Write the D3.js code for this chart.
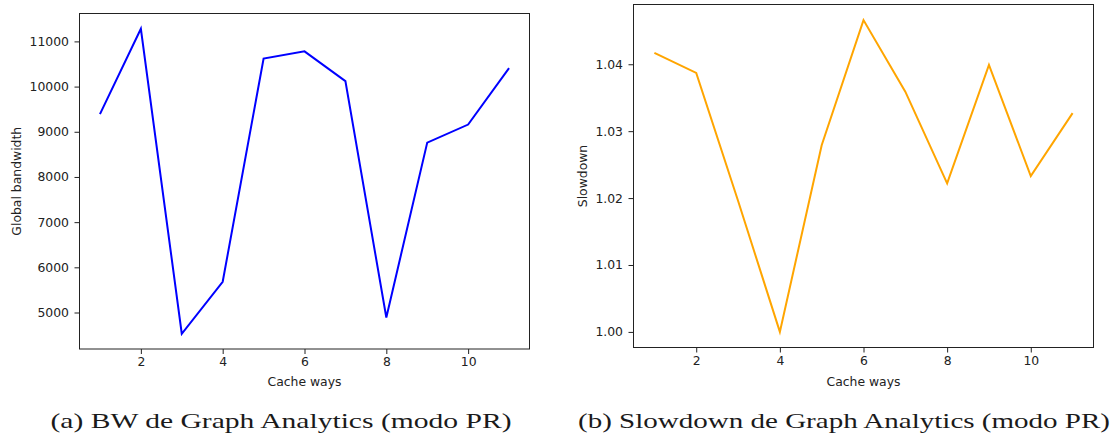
<!DOCTYPE html>
<html>
<head>
<meta charset="utf-8">
<script src="https://cdn.jsdelivr.net/npm/d3@7"></script>
<style>
  body { margin: 0; background: #fff; }
  svg text { font-family: "DejaVu Sans", sans-serif; fill: #222; }
  .caption { font-family: "Liberation Serif", "DejaVu Serif", serif !important; fill: #1a1a1a; }
</style>
</head>
<body>
<svg id="chart" width="1113" height="436"></svg>
<script>
// cache ways on the x axis (shared by both panels)
var cacheWays = [1, 2, 3, 4, 5, 6, 7, 8, 9, 10, 11];
// panel (a): global bandwidth
var bandwidth = [9390, 11280, 4530, 5680, 10620, 10780, 10120, 4890, 8760, 9160, 10410];
// panel (b): slowdown
var slowdown = [1.0417, 1.0387, 1.0196, 1.0000, 1.0279, 1.0466, 1.0359, 1.0222, 1.0399, 1.0233, 1.0327];

var xTicks = [2, 4, 6, 8, 10];
var bwTicks = [5000, 6000, 7000, 8000, 9000, 10000, 11000];
var sdTicks = [1.00, 1.01, 1.02, 1.03, 1.04];

var svg = d3.select("#chart");

function margin5(vals) {
    var lo = d3.min(vals), hi = d3.max(vals), pad = (hi - lo) * 0.05;
    return [lo - pad, hi + pad];
}

function panel(opts) {
    var x = d3.scaleLinear().domain([0.5, 11.5]).range([opts.left, opts.right]);
    var y = d3.scaleLinear().domain(margin5(opts.values)).range([opts.bottom, opts.top]);

    var g = svg.append("g");

    var line = d3.line()
        .x(function(d, i) { return x(cacheWays[i]); })
        .y(function(d) { return y(d); });

    g.append("path")
        .datum(opts.values)
        .attr("d", line)
        .attr("fill", "none")
        .attr("stroke", opts.color)
        .attr("stroke-width", 2)
        .attr("stroke-linejoin", "miter");

    var xAxis = g.append("g")
        .attr("transform", "translate(0," + opts.bottom + ")")
        .call(d3.axisBottom(x).tickValues(xTicks).tickFormat(d3.format("d")).tickSize(5).tickPadding(3.5));
    var yAxis = g.append("g")
        .attr("transform", "translate(" + opts.left + ",0)")
        .call(d3.axisLeft(y).tickValues(opts.ticks).tickFormat(opts.fmt).tickSize(5).tickPadding(5.5));

    [xAxis, yAxis].forEach(function(a) {
        a.select(".domain").remove();
        a.selectAll("line").attr("stroke", "#222").attr("stroke-width", 1);
        a.selectAll("text").style("font-size", "12.4px").attr("fill", "#222");
    });

    g.append("rect")
        .attr("x", opts.left)
        .attr("y", opts.top)
        .attr("width", opts.right - opts.left)
        .attr("height", opts.bottom - opts.top)
        .attr("fill", "none")
        .attr("stroke", "#222")
        .attr("stroke-width", 1);

    g.append("text")
        .attr("x", (opts.left + opts.right) / 2)
        .attr("y", 386)
        .attr("text-anchor", "middle")
        .style("font-size", "12.4px")
        .text("Cache ways");

    g.append("text")
        .attr("transform", "translate(" + opts.ylabelX + "," + (opts.top + opts.bottom) / 2 + ") rotate(-90)")
        .attr("text-anchor", "middle")
        .style("font-size", "12.4px")
        .text(opts.ylabel);

    g.append("text")
        .attr("class", "caption")
        .attr("x", opts.capX)
        .attr("y", 428)
        .attr("text-anchor", "middle")
        .attr("textLength", opts.capW)
        .attr("lengthAdjust", "spacingAndGlyphs")
        .style("font-size", "21px")
        .text(opts.caption);
}

panel({
    left: 79.5, right: 529.5, top: 13.5, bottom: 349,
    values: bandwidth, ticks: bwTicks, fmt: d3.format("d"),
    color: "#0000ff", ylabel: "Global bandwidth", ylabelX: 21,
    caption: "(a) BW de Graph Analytics (modo PR)", capX: 281, capW: 461
});

panel({
    left: 633.5, right: 1093.5, top: 4.5, bottom: 347.5,
    values: slowdown, ticks: sdTicks, fmt: d3.format(".2f"),
    color: "#ffa500", ylabel: "Slowdown", ylabelX: 587,
    caption: "(b) Slowdown de Graph Analytics (modo PR)", capX: 844, capW: 532
});
</script>
</body>
</html>
